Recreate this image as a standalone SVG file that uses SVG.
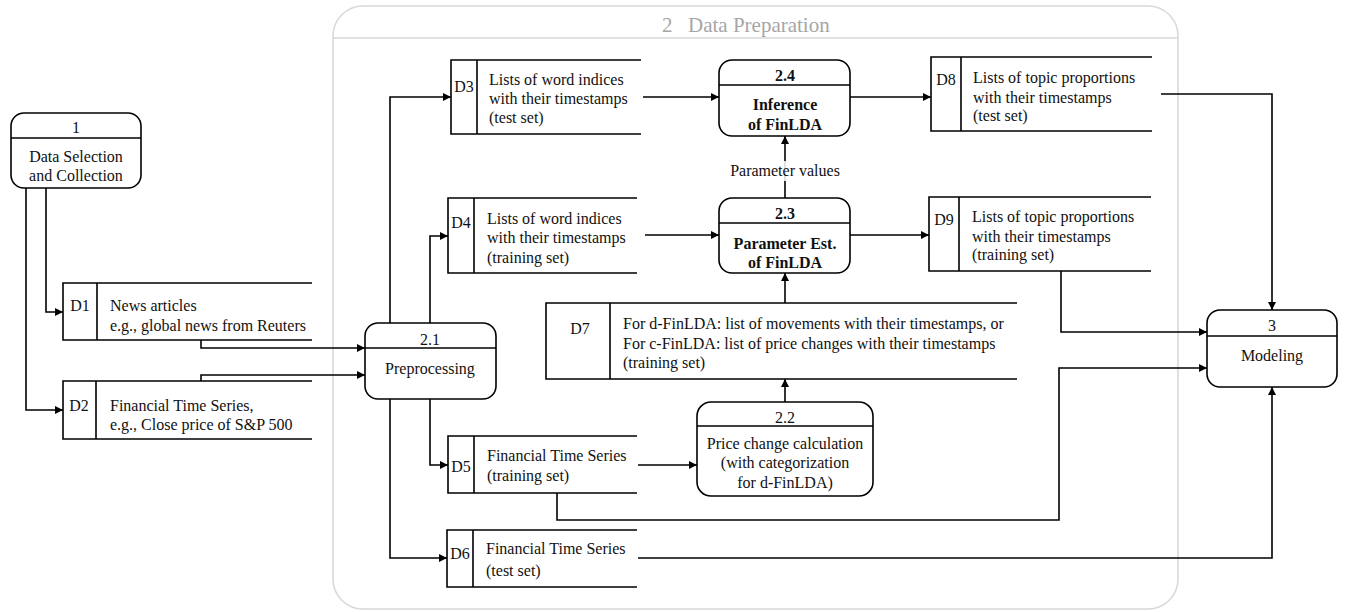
<svg xmlns="http://www.w3.org/2000/svg" width="1346" height="612" viewBox="0 0 1346 612">
<defs>
<marker id="arr" viewBox="0 0 10 10" refX="10" refY="5" markerWidth="8" markerHeight="8" markerUnits="userSpaceOnUse" orient="auto">
<path d="M0,0 L10,5 L0,10 z" fill="#000"/>
</marker>
<style>
text{font-family:"Liberation Serif","Times New Roman",serif;font-size:16px;fill:#111}
.c{text-anchor:middle}
.b{font-weight:bold}
.proc rect{fill:#fff;stroke:#000;stroke-width:1.6}
.proc line,.ds path{stroke:#000;stroke-width:1.6;fill:none}
.conn path{fill:none;stroke:#000;stroke-width:1.6;marker-end:url(#arr)}
.title{font-size:21px;fill:#a6a6a6}
</style>
</defs>
<rect width="1346" height="612" fill="#fff"/>

<g id="container">
<rect x="333" y="6" width="845" height="603" rx="30" fill="none" stroke="#d9d9d9" stroke-width="1.6"/>
<line x1="333" y1="38" x2="1178" y2="38" stroke="#d9d9d9" stroke-width="1.6"/>
<text class="title" y="32"><tspan x="662">2</tspan><tspan x="688">Data Preparation</tspan></text>
</g>

<g class="conn" id="connectors">
<path d="M46,188 V312 H63"/>
<path d="M26,188 V410 H63"/>
<path d="M201,340 V348 H365"/>
<path d="M201,381 V375 H365"/>
<path d="M390,323 V97 H451"/>
<path d="M430,323 V236 H448"/>
<path d="M430,399 V465 H448"/>
<path d="M390,399 V558 H447"/>
<path d="M643,97 H719"/>
<path d="M645,235 H719"/>
<path d="M850,97 H931"/>
<path d="M850,235 H929"/>
<path d="M785,198 V136"/>
<path d="M785,303 V273"/>
<path d="M785,402 V379"/>
<path d="M638,465 H697"/>
<path d="M1161,94 H1272 V310"/>
<path d="M1061,271 V332 H1207"/>
<path d="M557,493 V520 H1059 V368 H1207"/>
<path d="M638,558 H1272 V387"/>
<rect x="727" y="161" width="116" height="20" fill="#fff" fill-opacity="0.85"/>
<text class="c" x="785" y="176">Parameter values</text>
</g>

<g id="p1" class="proc">
<rect x="11" y="113" width="130" height="75" rx="13"/>
<line x1="11" y1="138" x2="141" y2="138"/>
<text class="c" x="76" y="133">1</text>
<text class="c" x="76" y="162">Data Selection</text>
<text class="c" x="76" y="181">and Collection</text>
</g>

<g id="p2_1" class="proc">
<rect x="365" y="323" width="131" height="76" rx="13"/>
<line x1="365" y1="348" x2="496" y2="348"/>
<text class="c" x="430" y="345">2.1</text>
<text class="c" x="430" y="374">Preprocessing</text>
</g>

<g id="p2_2" class="proc">
<rect x="697" y="402" width="176" height="94" rx="14"/>
<line x1="697" y1="426" x2="873" y2="426"/>
<text class="c" x="785" y="423">2.2</text>
<text class="c" x="785" y="449">Price change calculation</text>
<text class="c" x="785" y="468">(with categorization</text>
<text class="c" x="785" y="488">for d-FinLDA)</text>
</g>

<g id="p2_3" class="proc">
<rect x="719" y="198" width="131" height="75" rx="13"/>
<line x1="719" y1="223" x2="850" y2="223"/>
<text class="c b" x="785" y="219">2.3</text>
<text class="c b" x="785" y="249">Parameter Est.</text>
<text class="c b" x="785" y="268">of FinLDA</text>
</g>

<g id="p2_4" class="proc">
<rect x="719" y="60" width="131" height="76" rx="13"/>
<line x1="719" y1="85" x2="850" y2="85"/>
<text class="c b" x="785" y="81">2.4</text>
<text class="c b" x="785" y="110">Inference</text>
<text class="c b" x="785" y="130">of FinLDA</text>
</g>

<g id="p3" class="proc">
<rect x="1207" y="310" width="130" height="77" rx="13"/>
<line x1="1207" y1="336" x2="1337" y2="336"/>
<text class="c" x="1272" y="331">3</text>
<text class="c" x="1272" y="361">Modeling</text>
</g>

<g id="D1" class="ds">
<path d="M312,283 H63 V340 H312 M97,283 V340"/>
<text class="c" x="80" y="311">D1</text>
<text x="110" y="311">News articles</text>
<text x="110" y="331">e.g., global news from Reuters</text>
</g>

<g id="D2" class="ds">
<path d="M312,381 H63 V439 H312 M96,381 V439"/>
<text class="c" x="79" y="411">D2</text>
<text x="110" y="411">Financial Time Series,</text>
<text x="110" y="430">e.g., Close price of S&amp;P 500</text>
</g>

<g id="D3" class="ds">
<path d="M641,60 H451 V134 H641 M477,60 V134"/>
<text class="c" x="464" y="92">D3</text>
<text x="489" y="85">Lists of word indices</text>
<text x="489" y="104">with their timestamps</text>
<text x="489" y="123">(test set)</text>
</g>

<g id="D4" class="ds">
<path d="M637,198 H448 V273 H637 M474,198 V273"/>
<text class="c" x="461" y="228">D4</text>
<text x="487" y="224">Lists of word indices</text>
<text x="487" y="243">with their timestamps</text>
<text x="487" y="263">(training set)</text>
</g>

<g id="D5" class="ds">
<path d="M637,436 H448 V493 H637 M474,436 V493"/>
<text class="c" x="461" y="472">D5</text>
<text x="487" y="461">Financial Time Series</text>
<text x="487" y="481">(training set)</text>
</g>

<g id="D6" class="ds">
<path d="M637,530 H447 V587 H637 M473,530 V587"/>
<text class="c" x="460" y="559">D6</text>
<text x="486" y="554">Financial Time Series</text>
<text x="486" y="576">(test set)</text>
</g>

<g id="D7" class="ds">
<path d="M1017,303 H546 V379 H1017 M610,303 V379"/>
<text class="c" x="580" y="334">D7</text>
<text x="623" y="329">For d-FinLDA: list of movements with their timestamps, or</text>
<text x="623" y="349">For c-FinLDA: list of price changes with their timestamps</text>
<text x="623" y="368">(training set)</text>
</g>

<g id="D8" class="ds">
<path d="M1152,57 H931 V131 H1152 M961,57 V131"/>
<text class="c" x="946" y="85">D8</text>
<text x="973" y="83">Lists of topic proportions</text>
<text x="973" y="103">with their timestamps</text>
<text x="973" y="121">(test set)</text>
</g>

<g id="D9" class="ds">
<path d="M1151,197 H929 V271 H1151 M959,197 V271"/>
<text class="c" x="944" y="225">D9</text>
<text x="972" y="222">Lists of topic proportions</text>
<text x="972" y="242">with their timestamps</text>
<text x="972" y="260">(training set)</text>
</g>
</svg>
